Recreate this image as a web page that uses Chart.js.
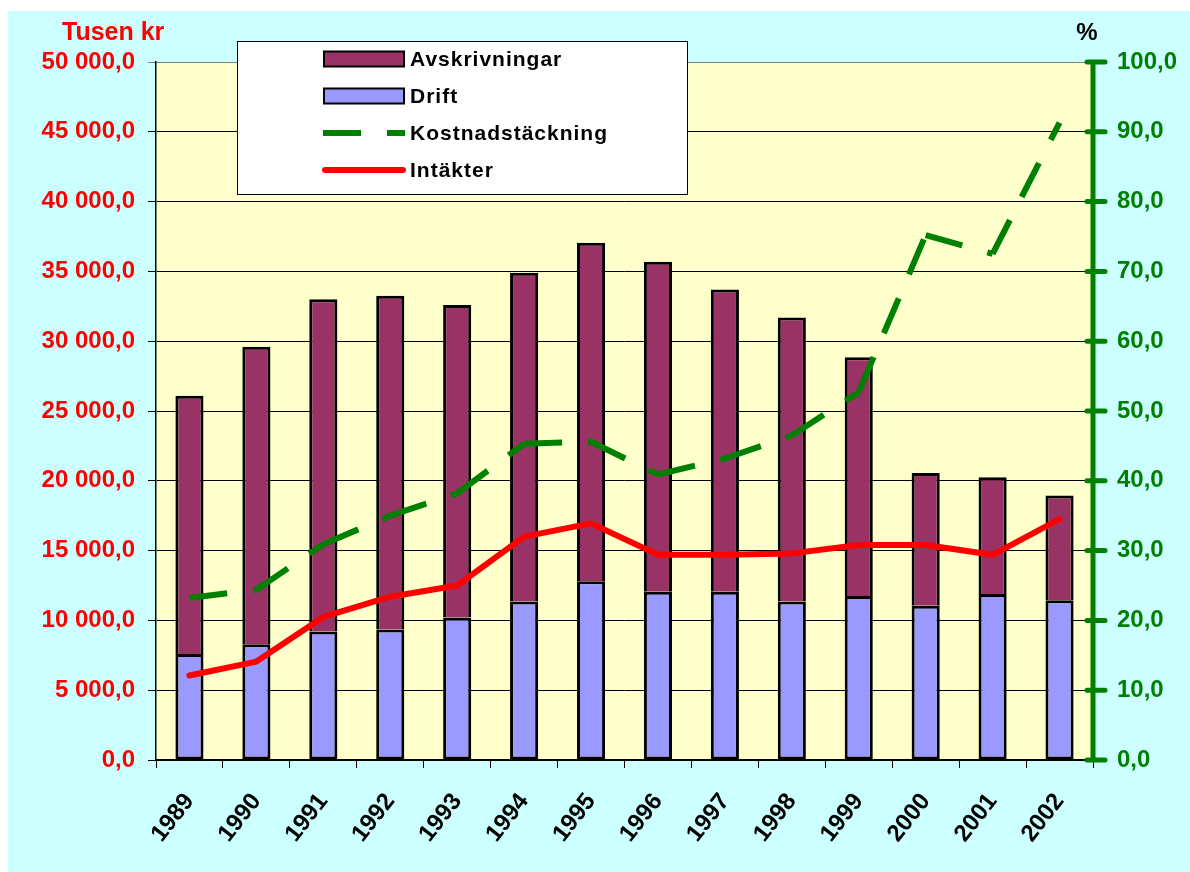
<!DOCTYPE html>
<html>
<head>
<meta charset="utf-8">
<script src="https://cdn.jsdelivr.net/npm/chart.js@4.4.0/dist/chart.umd.min.js"></script>
<style>
  html, body { margin: 0; padding: 0; background: #fff; }
  canvas { display: block; }
</style>
</head>
<body>
<canvas id="chart" width="1190" height="872"></canvas>
<script>
// --- Data ---
const years = ['1989', '1990', '1991', '1992', '1993', '1994', '1995', '1996', '1997', '1998', '1999', '2000', '2001', '2002'];
const drift = [7600, 8300, 9200, 9350, 10200, 11350, 12800, 12050, 12050, 11350, 11750, 11050, 11900, 11450];
const avskrivningar = [18500, 21300, 23800, 23900, 22400, 23550, 24250, 23650, 21650, 20350, 17100, 9500, 8350, 7500];
const intakter = [6050, 7050, 10250, 11700, 12500, 16000, 16950, 14700, 14700, 14800, 15400, 15400, 14700, 17250];
const kostnadstackning = [23.2, 24.4, 30.9, 35.0, 38.2, 45.3, 45.6, 40.9, 43.2, 46.5, 52.7, 75.2, 72.5, 91.3];
const leftTicks = [0, 5000, 10000, 15000, 20000, 25000, 30000, 35000, 40000, 45000, 50000];
const rightTicks = [0, 10, 20, 30, 40, 50, 60, 70, 80, 90, 100];

const FONT = '"Liberation Sans", Arial, sans-serif';
const GREEN = '#008000';
const RED = '#FF0000';

// "50 000,0" style numbers
function fmt(v) {
  const parts = v.toFixed(1).split('.');
  return parts[0].replace(/\B(?=(\d{3})+(?!\d))/g, ' ') + ',' + parts[1];
}

// --- Background: white page, cyan chart area, yellow plot ---
const backgroundPlugin = {
  id: 'backgrounds',
  beforeDraw(chart) {
    const { ctx, chartArea: a } = chart;
    ctx.save();
    ctx.fillStyle = '#FFFFFF';
    ctx.fillRect(0, 0, chart.width, chart.height);
    ctx.fillStyle = '#CCFFFF';
    ctx.fillRect(8, 11, chart.width - 8, chart.height - 11);
    ctx.fillStyle = '#FFFFCC';
    ctx.fillRect(a.left, a.top, a.right - a.left, a.bottom - a.top);
    ctx.restore();
  }
};

// --- Right (green) axis with ticks crossing the line ---
const rightAxisPlugin = {
  id: 'rightAxis',
  afterDatasetsDraw(chart) {
    const { ctx, chartArea: a } = chart;
    const s = chart.scales.y1;
    ctx.save();
    ctx.strokeStyle = GREEN;
    ctx.lineWidth = 5;
    ctx.lineCap = 'round';
    ctx.beginPath();
    ctx.moveTo(s.left, a.top);
    ctx.lineTo(s.left, a.bottom);
    s.ticks.forEach(t => {
      const y = s.getPixelForValue(t.value);
      ctx.moveTo(s.left - 6, y);
      ctx.lineTo(s.left + 12, y);
    });
    ctx.stroke();
    ctx.restore();
  }
};

// --- Axis titles and legend box ---
const legendPlugin = {
  id: 'customLegend',
  afterDraw(chart) {
    const { ctx } = chart;
    ctx.save();
    ctx.textBaseline = 'middle';

    ctx.font = 'bold 25px ' + FONT;
    ctx.fillStyle = RED;
    ctx.textAlign = 'left';
    ctx.fillText('Tusen kr', 62, 33);
    ctx.fillStyle = '#000';
    ctx.textAlign = 'center';
    ctx.font = 'bold 24px ' + FONT;
    ctx.fillText('%', 1087, 33);

    // legend box
    ctx.fillStyle = '#FFFFFF';
    ctx.fillRect(237.5, 41.5, 450, 153);
    ctx.strokeStyle = '#000';
    ctx.lineWidth = 1;
    ctx.strokeRect(237.5, 41.5, 450, 153);

    ctx.font = 'bold 21px ' + FONT;
    ctx.letterSpacing = '1px';
    ctx.textAlign = 'left';
    chart.data.datasets.forEach((ds, i) => {
      const y = 59 + i * 37;
      if (ds.type === 'bar') {
        ctx.fillStyle = ds.backgroundColor;
        ctx.fillRect(324, y - 7.5, 80, 15);
        ctx.lineWidth = 2;
        ctx.strokeStyle = '#000';
        ctx.strokeRect(324, y - 7.5, 80, 15);
      } else {
        ctx.beginPath();
        ctx.strokeStyle = ds.borderColor;
        ctx.lineWidth = ds.borderWidth;
        ctx.setLineDash(ds.borderDash || []);
        ctx.lineCap = ds.borderDash ? 'butt' : 'round';
        ctx.moveTo(ds.borderDash ? 323 : 325, y);
        ctx.lineTo(ds.borderDash ? 405 : 403, y);
        ctx.stroke();
        ctx.setLineDash([]);
      }
      ctx.fillStyle = '#000';
      ctx.fillText(ds.label, 410, y + 1);
    });
    ctx.restore();
  }
};

const ctx = document.getElementById('chart').getContext('2d');
new Chart(ctx, {
  data: {
    labels: years,
    datasets: [
      {
        type: 'bar',
        label: 'Avskrivningar',
        data: avskrivningar,
        backgroundColor: '#993366',
        borderColor: '#000000',
        borderWidth: 3,
        yAxisID: 'y',
        order: 3,
        barPercentage: 0.42,
        categoryPercentage: 1.0
      },
      {
        type: 'bar',
        label: 'Drift',
        data: drift,
        backgroundColor: '#9999FF',
        borderColor: '#000000',
        borderWidth: 3,
        borderSkipped: false,
        yAxisID: 'y',
        order: 2,
        barPercentage: 0.42,
        categoryPercentage: 1.0
      },
      {
        type: 'line',
        label: 'Kostnadstäckning',
        data: kostnadstackning,
        borderColor: GREEN,
        borderWidth: 6,
        borderDash: [38, 26],
        borderCapStyle: 'butt',
        borderJoinStyle: 'miter',
        pointRadius: 0,
        tension: 0,
        fill: false,
        yAxisID: 'y1',
        order: 1,
        // restart the dash pattern at every point, like the original
        segment: { borderDashOffset: c => (c.p0DataIndex % 2) * 0.001 }
      },
      {
        type: 'line',
        label: 'Intäkter',
        data: intakter,
        borderColor: RED,
        borderWidth: 6,
        borderJoinStyle: 'round',
        borderCapStyle: 'round',
        pointRadius: 0,
        tension: 0,
        fill: false,
        yAxisID: 'y',
        stack: 'intakter',
        order: 0
      }
    ]
  },
  options: {
    responsive: false,
    animation: false,
    layout: { padding: { top: 62, left: 0, right: 0, bottom: 0 } },
    plugins: {
      legend: { display: false },
      title: { display: false },
      tooltip: { enabled: false }
    },
    scales: {
      x: {
        stacked: true,
        offset: true,
        afterFit: s => { s.height = 112; },
        grid: {
          offset: true,
          drawOnChartArea: false,
          drawTicks: true,
          tickLength: 8,
          color: '#000'
        },
        border: { color: '#000', width: 1.5 },
        ticks: {
          color: '#000',
          font: { family: FONT, size: 24, weight: 'bold' },
          minRotation: 52,
          maxRotation: 52,
          padding: 20,
          autoSkip: false
        }
      },
      y: {
        position: 'left',
        stacked: true,
        min: 0,
        max: 50000,
        afterFit: s => { s.width = 156; },
        afterBuildTicks: s => { s.ticks = leftTicks.map(v => ({ value: v })); },
        grid: {
          color: c => (c.tick && c.tick.value === 50000) ? '#808080' : '#000000',
          lineWidth: 1,
          tickLength: 8
        },
        border: { color: '#000', width: 1.5 },
        ticks: {
          color: RED,
          padding: 13,
          font: { family: FONT, size: 24, weight: 'bold' },
          callback: v => fmt(v)
        }
      },
      y1: {
        position: 'right',
        min: 0,
        max: 100,
        afterFit: s => { s.width = 97; },
        afterBuildTicks: s => { s.ticks = rightTicks.map(v => ({ value: v })); },
        grid: { display: false, drawTicks: false },
        border: { display: false },
        ticks: {
          color: GREEN,
          padding: 24,
          font: { family: FONT, size: 24, weight: 'bold' },
          callback: v => fmt(v)
        }
      }
    }
  },
  plugins: [backgroundPlugin, rightAxisPlugin, legendPlugin]
});
</script>
</body>
</html>
